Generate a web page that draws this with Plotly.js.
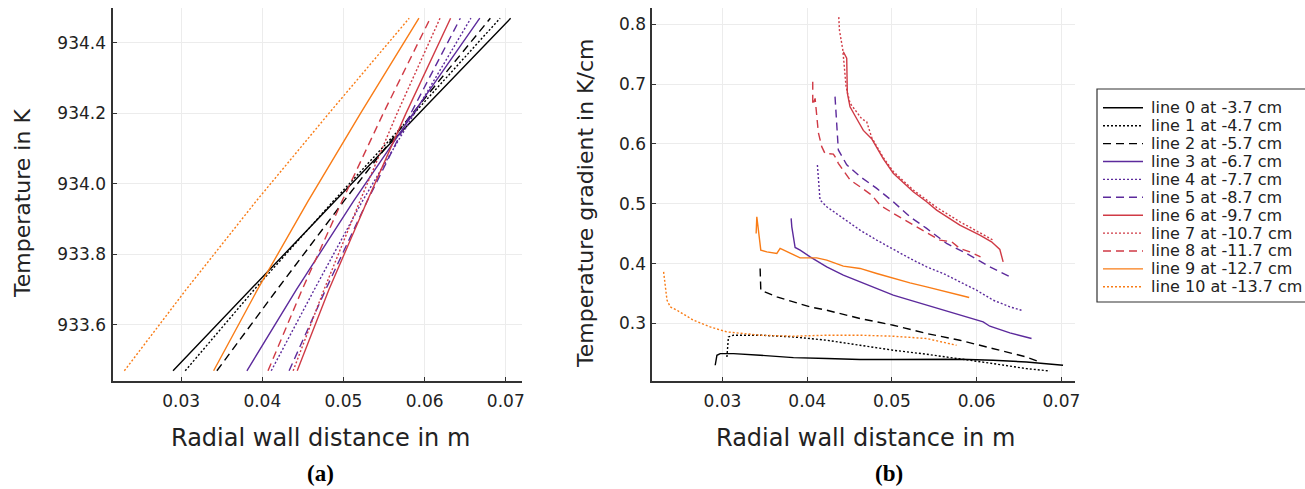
<!DOCTYPE html>
<html>
<head>
<meta charset="utf-8">
<script src="https://cdn.plot.ly/plotly-3.0.1.min.js"></script>
<style>html,body{margin:0;padding:0;background:#fff;}#chart{width:1305px;height:489px;}</style>
</head>
<body>
<div id="chart"></div>
<script>
// ---------- data ----------
const lineNames = ["line 0 at -3.7 cm","line 1 at -4.7 cm","line 2 at -5.7 cm","line 3 at -6.7 cm",
  "line 4 at -7.7 cm","line 5 at -8.7 cm","line 6 at -9.7 cm","line 7 at -10.7 cm",
  "line 8 at -11.7 cm","line 9 at -12.7 cm","line 10 at -13.7 cm"];

// (a) temperature profiles: temperature levels and radial distance for each line
const profileT = [933.47, 933.7, 933.95, 934.2, 934.47];
const profileX = [
  [0.0290, 0.0385, 0.0489, 0.0593, 0.0706],
  [0.0305, 0.0390, 0.0487, 0.0587, 0.0693],
  [0.0344, 0.0418, 0.0500, 0.0585, 0.0681],
  [0.0381, 0.0442, 0.0512, 0.0586, 0.0668],
  [0.0411, 0.0464, 0.0523, 0.0587, 0.0657],
  [0.0433, 0.0478, 0.0529, 0.0583, 0.0644],
  [0.0443, 0.0482, 0.0529, 0.0577, 0.0632],
  [0.0438, 0.0476, 0.0520, 0.0566, 0.0619],
  [0.0407, 0.0449, 0.0498, 0.0549, 0.0607],
  [0.0340, 0.0394, 0.0456, 0.0521, 0.0593],
  [0.0230, 0.0306, 0.0392, 0.0482, 0.0581]
];

// (b) temperature gradient in K/cm
const gradX = [
  [0.02914,0.02934,0.02973,0.0313,0.03444,0.03837,0.0423,0.04623,0.05015,0.05409,0.05801,0.06194,0.06587,0.07019],
  [0.03052,0.0307,0.0313,0.03444,0.03837,0.0423,0.04623,0.05015,0.05409,0.05801,0.06194,0.06587,0.06862],
  [0.03444,0.03452,0.03641,0.03837,0.04034,0.0423,0.04623,0.05015,0.05409,0.05801,0.06194,0.06587,0.06744],
  [0.0381,0.03818,0.03857,0.03916,0.04034,0.0423,0.04426,0.04623,0.0482,0.05015,0.05212,0.05409,0.05605,0.05801,0.05998,0.06076,0.06155,0.06391,0.06647],
  [0.0412,0.04131,0.04151,0.0423,0.04426,0.04623,0.0482,0.05015,0.05212,0.05409,0.05605,0.05801,0.05998,0.06194,0.06391,0.06528],
  [0.04328,0.04367,0.04466,0.04623,0.0482,0.05015,0.05212,0.05409,0.05644,0.0588,0.06155,0.06352,0.0643],
  [0.04426,0.04466,0.04473,0.04505,0.04584,0.04662,0.0476,0.04898,0.05015,0.05251,0.05409,0.05527,0.05801,0.06037,0.06175,0.06273,0.06312],
  [0.04372,0.0438,0.0442,0.04458,0.04505,0.04643,0.04702,0.0476,0.04898,0.05015,0.05251,0.05409,0.05527,0.05801,0.06037,0.06194],
  [0.04065,0.04065,0.04093,0.04131,0.04171,0.0421,0.04308,0.04328,0.04367,0.04505,0.04623,0.0476,0.04859,0.05015,0.05291,0.05566,0.05704,0.05801,0.05919,0.06045],
  [0.03397,0.03405,0.03417,0.03452,0.03523,0.03641,0.0368,0.03837,0.03916,0.04112,0.0423,0.04426,0.04623,0.0482,0.05015,0.05212,0.05409,0.05605,0.05911],
  [0.02305,0.02325,0.02345,0.02384,0.02463,0.02658,0.02855,0.03052,0.03444,0.03837,0.0423,0.04623,0.05015,0.05409,0.05605,0.05762]
];
const gradY = [
  [0.2303,0.2470,0.2498,0.2498,0.2470,0.2431,0.2415,0.2398,0.2398,0.2403,0.2403,0.2386,0.2358,0.2303],
  [0.2441,0.2776,0.2805,0.2805,0.2776,0.2721,0.2637,0.2554,0.2487,0.2415,0.2331,0.2247,0.2207],
  [0.392,0.3557,0.3445,0.3362,0.3278,0.3222,0.3084,0.2972,0.2833,0.2721,0.2582,0.2441,0.2358],
  [0.4756,0.4615,0.427,0.4226,0.4114,0.3947,0.3808,0.3696,0.3585,0.3473,0.339,0.3306,0.3222,0.3139,0.3067,0.3027,0.2955,0.2843,0.275],
  [0.5647,0.54,0.5065,0.495,0.4757,0.456,0.4393,0.4237,0.4087,0.3947,0.3836,0.3696,0.3557,0.339,0.3278,0.3222],
  [0.679,0.5899,0.5652,0.5455,0.5257,0.5034,0.4783,0.4589,0.4338,0.417,0.3947,0.3808,0.3753],
  [0.754,0.743,0.685,0.662,0.642,0.6225,0.6086,0.575,0.551,0.520,0.5034,0.4895,0.4644,0.4477,0.4365,0.4237,0.403],
  [0.8117,0.79,0.757,0.696,0.668,0.642,0.637,0.611,0.577,0.554,0.523,0.506,0.494,0.470,0.452,0.4393],
  [0.704,0.665,0.676,0.619,0.5954,0.584,0.583,0.5787,0.5676,0.5398,0.5284,0.5146,0.4978,0.484,0.4615,0.4393,0.4365,0.4254,0.4197,0.4114],
  [0.4505,0.4783,0.4644,0.4226,0.4197,0.417,0.4254,0.4142,0.4097,0.4097,0.4059,0.3958,0.392,0.3836,0.3753,0.3679,0.3613,0.354,0.3435],
  [0.3863,0.3669,0.339,0.3278,0.3222,0.3055,0.2943,0.286,0.2805,0.2788,0.2805,0.2805,0.2788,0.2749,0.2693,0.2637]
];

const xTicks = [0.03, 0.04, 0.05, 0.06, 0.07];
const tTicks = [933.6, 933.8, 934.0, 934.2, 934.4];
const gTicks = [0.3, 0.4, 0.5, 0.6, 0.7, 0.8];

// ---------- styles ----------
const palette = ["#000000","#000000","#000000","#5c2a9c","#5c2a9c","#5c2a9c","#d03a45","#d03a45","#d03a45","#f97c16","#f97c16"];
const dashes = ["solid","2px,2px","8px,5px","solid","2px,2px","8px,5px","solid","2px,2px","8px,5px","solid","2px,2px"];
const FONT = "DejaVu Sans";
const W = 1305, H = 489;
const px = v => v / W, py = v => 1 - v / H;

const traces = [];
for (let i = 0; i < lineNames.length; i++) {
  traces.push({type:"scatter", mode:"lines", x: profileX[i], y: profileT, xaxis:"x", yaxis:"y",
    name: lineNames[i], showlegend:false, hoverinfo:"skip",
    line:{color: palette[i], width:1.4, dash: dashes[i]}});
}
for (let i = 0; i < lineNames.length; i++) {
  traces.push({type:"scatter", mode:"lines", x: gradX[i], y: gradY[i], xaxis:"x2", yaxis:"y2",
    name: lineNames[i], showlegend:false, hoverinfo:"skip",
    line:{color: palette[i], width:1.4, dash: dashes[i]}});
}

const axCommon = {
  showline:true, linecolor:"#333", linewidth:1.6, mirror:false,
  ticks:"inside", ticklen:4, tickcolor:"#333", tickwidth:1,
  showgrid:true, gridcolor:"#ececec", gridwidth:1, zeroline:false,
  tickfont:{family:FONT, size:17, color:"#222"}, fixedrange:true
};
const yDom = [py(381), py(8)];

const shapes = [];
const annotations = [];
// custom legend box
shapes.push({type:"rect", xref:"paper", yref:"paper", x0:px(1097), x1:px(1312), y0:py(302), y1:py(89),
  line:{color:"#333", width:1.2}, fillcolor:"#ffffff"});
for (let i = 0; i < lineNames.length; i++) {
  const yy = py(107.8 + 17.9*i);
  shapes.push({type:"line", xref:"paper", yref:"paper", x0:px(1103), x1:px(1143), y0:yy, y1:yy,
    line:{color: palette[i], width:1.4, dash: dashes[i]}});
  annotations.push({xref:"paper", yref:"paper", x:px(1149), y:yy, xanchor:"left", yanchor:"middle",
    text: lineNames[i], showarrow:false, font:{family:FONT, size:16, color:"#222"}});
}
// axis titles and panel labels
annotations.push({xref:"paper", yref:"paper", x:px(320), y:py(438), text:"Radial wall distance in m",
  showarrow:false, xanchor:"center", yanchor:"middle", font:{family:FONT, size:24, color:"#222"}});
annotations.push({xref:"paper", yref:"paper", x:px(865), y:py(438), text:"Radial wall distance in m",
  showarrow:false, xanchor:"center", yanchor:"middle", font:{family:FONT, size:24, color:"#222"}});
annotations.push({xref:"paper", yref:"paper", x:px(22), y:py(204), text:"Temperature in K", textangle:-90,
  showarrow:false, xanchor:"center", yanchor:"middle", font:{family:FONT, size:22, color:"#222"}});
annotations.push({xref:"paper", yref:"paper", x:px(585), y:py(204), text:"Temperature gradient in K/cm", textangle:-90,
  showarrow:false, xanchor:"center", yanchor:"middle", font:{family:FONT, size:22, color:"#222"}});
annotations.push({xref:"paper", yref:"paper", x:px(320), y:py(473), text:"<b>(a)</b>",
  showarrow:false, xanchor:"center", yanchor:"middle", font:{family:"Liberation Serif", size:23, color:"#000"}});
annotations.push({xref:"paper", yref:"paper", x:px(889), y:py(473), text:"<b>(b)</b>",
  showarrow:false, xanchor:"center", yanchor:"middle", font:{family:"Liberation Serif", size:23, color:"#000"}});

const layout = {
  width:W, height:H, margin:{l:0, r:0, t:0, b:0},
  paper_bgcolor:"#ffffff", plot_bgcolor:"#ffffff", showlegend:false,
  font:{family:FONT},
  xaxis: Object.assign({}, axCommon, {domain:[px(113), px(522)], range:[0.0216, 0.0720], tickvals:xTicks, tickformat:".2f", anchor:"y", ticklabelstandoff:4}),
  yaxis: Object.assign({}, axCommon, {domain:yDom, range:[933.441, 934.499], tickvals:tTicks, tickformat:".1f", anchor:"x", ticklabelstandoff:2}),
  xaxis2: Object.assign({}, axCommon, {domain:[px(652), px(1075)], range:[0.02168, 0.0716], tickvals:xTicks, tickformat:".2f", anchor:"y2", ticklabelstandoff:4}),
  yaxis2: Object.assign({}, axCommon, {domain:yDom, range:[0.204, 0.827], tickvals:gTicks, tickformat:".1f", anchor:"x2", ticklabelstandoff:1}),
  shapes: shapes, annotations: annotations
};

Plotly.newPlot("chart", traces, layout, {staticPlot:true, displayModeBar:false});
</script>
</body>
</html>
